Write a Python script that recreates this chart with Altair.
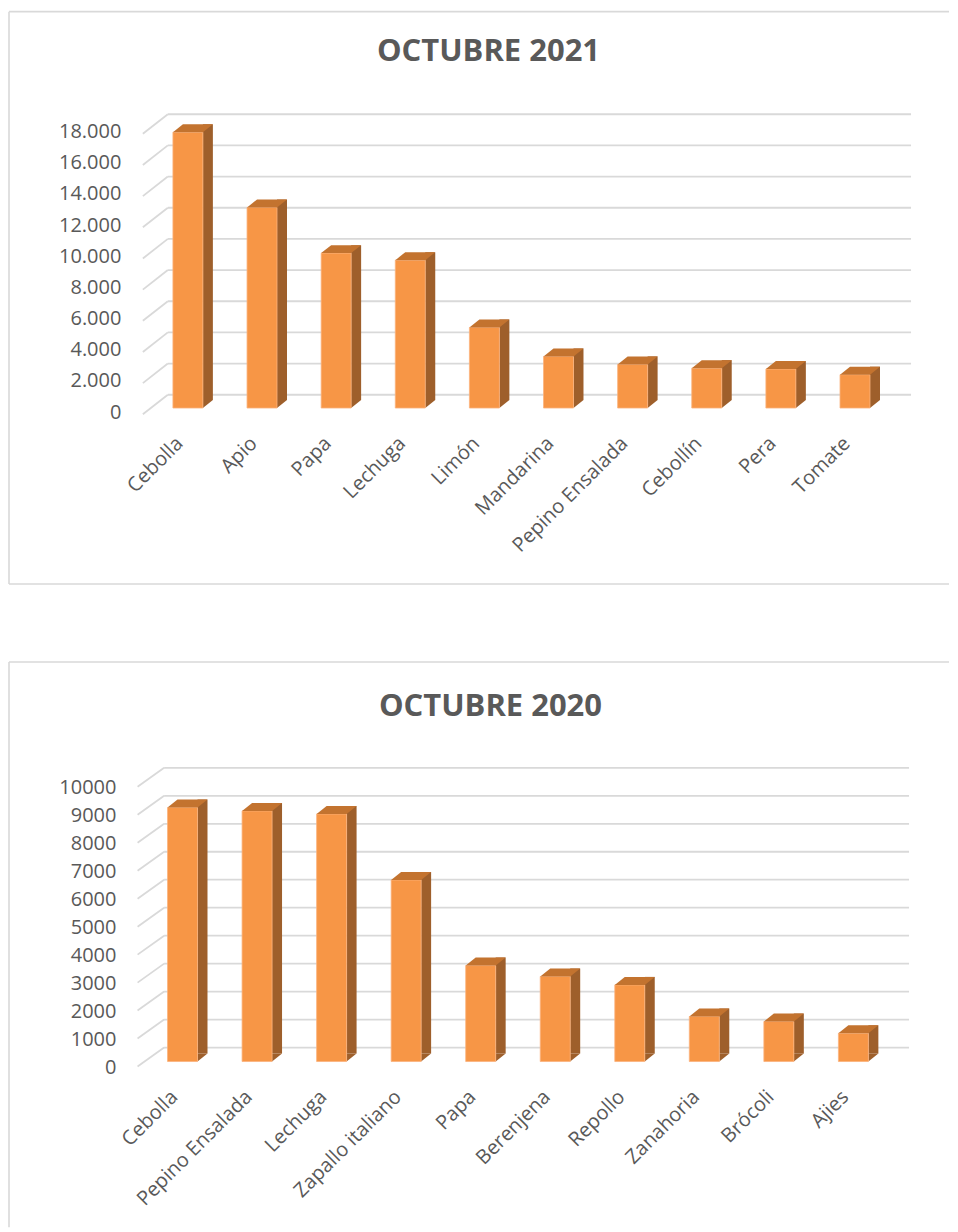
import altair as alt
import pandas as pd

# ---------------- data ----------------
cats_2021 = ["Cebolla", "Apio", "Papa", "Lechuga", "Limón", "Mandarina",
             "Pepino Ensalada", "Cebollín", "Pera", "Tomate"]
vals_2021 = [17700, 12870, 9940, 9490, 5170, 3310, 2800, 2560, 2500, 2140]
ticks_2021 = [0, 2000, 4000, 6000, 8000, 10000, 12000, 14000, 16000, 18000]

cats_2020 = ["Cebolla", "Pepino Ensalada", "Lechuga", "Zapallo italiano", "Papa",
             "Berenjena", "Repollo", "Zanahoria", "Brócoli", "Ajies"]
vals_2020 = [9080, 8960, 8850, 6490, 3430, 3040, 2740, 1610, 1430, 1010]
ticks_2020 = [0, 1000, 2000, 3000, 4000, 5000, 6000, 7000, 8000, 9000, 10000]

# ---------------- style ----------------
FRONT = "#F79646"
SIDE = "#9E5F2B"
TOP = "#C3732F"
GRID = "#D9D9D9"
TEXT = "#595959"
FONT = "Open Sans"


def panel(title, cats, vals, ticks, ymax, height, xrange, grid_back, diag_front,
          grid_x0, grid_x1, diag_x0, label_expr, ylab_pad, ylab_off,
          title_x, title_y, frame, frame_bottom):
    df = pd.DataFrame({"cat": cats, "v": vals})
    tk = pd.DataFrame({"t": ticks})
    one = pd.DataFrame({"a": [0]})

    xscale = alt.Scale(domain=cats, range=xrange, paddingInner=0, paddingOuter=0)
    yscale = alt.Scale(domain=[0, ymax], nice=False, zero=True)

    x_axis = alt.Axis(
        title=None, domain=False, ticks=False, grid=False,
        labelAngle=-45, labelAlign="right", labelBaseline="middle",
        labelPadding=32, labelOffset=-8, labelFont=FONT, labelFontSize=20,
        labelColor=TEXT,
    )
    y_axis = alt.Axis(
        title=None, values=ticks, labelExpr=label_expr, domain=False, ticks=False,
        grid=False, labelPadding=ylab_pad, labelOffset=ylab_off,
        labelFont=FONT, labelFontSize=20, labelColor=TEXT,
    )
    xe = alt.X("cat:N", sort=cats, scale=xscale, axis=x_axis)
    ye = alt.Y("v:Q", scale=yscale, axis=y_axis)
    yt = alt.Y("t:Q", scale=yscale, axis=y_axis)

    grid = alt.Chart(tk).mark_rule(
        color=GRID, strokeWidth=1.8, yOffset=-grid_back
    ).encode(x=alt.value(grid_x0), x2=alt.value(grid_x1), y=yt)

    diag = alt.Chart(tk).mark_rule(
        color=GRID, strokeWidth=1.8, yOffset=diag_front, y2Offset=-grid_back
    ).encode(x=alt.value(diag_x0), x2=alt.value(grid_x0), y=yt, y2=alt.Y2("t"))

    side = alt.Chart(df).mark_bar(
        width=10, xOffset=20, yOffset=-8, y2Offset=-8, color=SIDE
    ).encode(x=xe, y=ye, y2=alt.datum(0))

    side_bottom = alt.Chart(df).mark_point(
        shape="M 15 -8 L 15 0 L 25 -8 Z", size=4, filled=True, fill=SIDE,
        strokeWidth=0, opacity=1,
    ).encode(
        x=xe, y=alt.Y("base:Q", scale=yscale, axis=y_axis),
    ).transform_calculate(base="0")

    front = alt.Chart(df).mark_bar(
        width=30, color=FRONT, stroke="#FBB27C", strokeWidth=0.8
    ).encode(x=xe, y=ye)

    top = alt.Chart(df).mark_point(
        shape="M -15 0 L 15 0 L 25 -8 L -5 -8 Z", size=4, filled=True, fill=TOP,
        strokeWidth=0, opacity=1,
    ).encode(x=xe, y=ye)

    ttl = alt.Chart(one).mark_text(
        text=title, font=FONT, fontSize=31, fontWeight="bold", color=TEXT,
        align="center", baseline="middle",
    ).encode(x=alt.value(title_x), y=alt.value(title_y))

    fx0, fx1, fy0, fy1 = frame
    b_left = alt.Chart(one).mark_rule(color=GRID, strokeWidth=1.6).encode(
        x=alt.value(fx0), y=alt.value(fy0), y2=alt.value(fy1))
    b_top = alt.Chart(one).mark_rule(color=GRID, strokeWidth=1.6).encode(
        x=alt.value(fx0), x2=alt.value(fx1), y=alt.value(fy0))
    layers = [grid, diag, side, side_bottom, front, top, ttl, b_left, b_top]
    if frame_bottom:
        b_bot = alt.Chart(one).mark_rule(color=GRID, strokeWidth=1.6).encode(
            x=alt.value(fx0), x2=alt.value(fx1), y=alt.value(fy1))
        layers.append(b_bot)

    return alt.layer(*layers).properties(width=770, height=height)


c2021 = panel(
    "OCTUBRE 2021", cats_2021, vals_2021, ticks_2021, 18000, 280.8,
    [6, 748], 13.3, 6.3, 23, 767, -2,
    "replace(format(datum.value, ','), ',', '.')", 24, 4,
    344, -76, [-136, 805, -116, 457], True,
)

c2020 = panel(
    "OCTUBRE 2020", cats_2020, vals_2020, ticks_2020, 10000, 280,
    [0.4, 746.6], 14, 5, 19.3, 765, -7.3,
    "format(datum.value, 'd')", 29, 6,
    346, -75, [-136, 805, -120, 446], False,
)

chart = alt.vconcat(c2021, c2020, spacing=76).configure_view(stroke=None).properties(
    padding={"left": 0, "top": 2, "right": 0, "bottom": 0}
)

chart.save("out.html", embed_options={"renderer": "svg", "actions": False})
